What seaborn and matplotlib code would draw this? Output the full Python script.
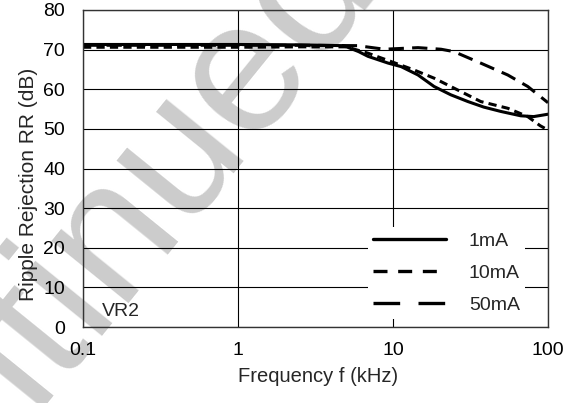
import pandas as pd
import matplotlib
matplotlib.use("Agg")
import matplotlib.pyplot as plt
from matplotlib.lines import Line2D
import seaborn as sns

# Ripple rejection vs frequency, VR2
freq_1ma = [0.1, 1, 2.5, 4.8, 6.0, 6.9, 9.3, 11.3, 14.5, 18.4, 23.6, 30.4, 38.5, 49.6, 66.7, 80.9, 100]
rr_1ma = [71.3, 71.3, 71.2, 71.0, 69.5, 68.3, 66.6, 65.7, 63.6, 60.7, 58.6, 56.9, 55.5, 54.4, 53.3, 53.1, 53.7]

freq_10ma = [0.1, 1, 2.5, 5.0, 6.9, 9.7, 13.6, 18.4, 24.7, 36.8, 55, 74, 89, 100]
rr_10ma = [70.6, 70.6, 70.7, 70.7, 69.1, 67.0, 64.9, 62.8, 60.3, 56.9, 55.2, 53.1, 50.8, 49.7]

freq_50ma = [0.1, 1, 2.5, 5.9, 8.8, 14.5, 20.4, 24.7, 36.8, 55, 74, 100]
rr_50ma = [71.1, 71.1, 71.1, 71.0, 70.1, 70.5, 70.1, 69.5, 66.6, 63.6, 60.7, 56.6]

series = ["1mA", "10mA", "50mA"]
x_ticks = [0.1, 1, 10, 100]
x_tick_labels = ["0.1", "1", "10", "100"]
y_ticks = [0, 10, 20, 30, 40, 50, 60, 70, 80]

df = pd.concat([
    pd.DataFrame({"freq": freq_1ma, "rr": rr_1ma, "current": "1mA"}),
    pd.DataFrame({"freq": freq_10ma, "rr": rr_10ma, "current": "10mA"}),
    pd.DataFrame({"freq": freq_50ma, "rr": rr_50ma, "current": "50mA"}),
])

sns.set_style("white")
plt.rcParams["font.family"] = ["Liberation Sans", "DejaVu Sans"]

fig = plt.figure(figsize=(5.73, 4.03), dpi=100)
ax = fig.add_axes([83 / 573, 1 - 327 / 403, 465 / 573, 317 / 403])
ax.set_facecolor("none")

# faint watermark behind the axes
fig.text(0.661, 1.06, "Discontinued", fontsize=135, color="#cccccc",
         rotation=51, rotation_mode="anchor", ha="right", va="baseline",
         zorder=-1)

dash_map = {"1mA": "", "10mA": (2.7, 1.7), "50mA": (5, 2.7)}
sns.lineplot(data=df, x="freq", y="rr", hue="current", style="current",
             hue_order=series, style_order=series,
             palette=["black"] * 3, dashes=dash_map, linewidth=2.2,
             legend=False, ax=ax, estimator=None, sort=True)

ax.set_xscale("log")
ax.set_xlim(0.1, 100)
ax.set_ylim(0, 80)
ax.set_xticks(x_ticks)
ax.set_xticklabels(x_tick_labels)
ax.set_yticks(y_ticks)
ax.minorticks_off()
ax.tick_params(axis="both", length=0, labelsize=14, colors="black")
ax.tick_params(axis="y", pad=13)
ax.tick_params(axis="x", pad=11)
ax.grid(True, color="black", linewidth=0.8)
for s in ax.spines.values():
    s.set_color("#333333")
    s.set_linewidth(1.0)

ax.set_xlabel("Frequency f (kHz)", fontsize=14.5)
ax.set_ylabel("Ripple Rejection RR (dB)", fontsize=15)
ax.xaxis.set_label_coords(0.505, -0.125)
ax.yaxis.set_label_coords(-0.097, 0.45)

ax.text(0.1 * 1.32, 4, "VR2", fontsize=14, va="center", ha="left")

handles = [
    Line2D([], [], color="black", linewidth=2.4),
    Line2D([], [], color="black", linewidth=2.4, dashes=(4.2, 3.2)),
    Line2D([], [], color="black", linewidth=2.4, dashes=(8, 5.5)),
]
leg = ax.legend(handles, series, loc="lower right", bbox_to_anchor=(0.95, 0.025),
                fontsize=14, frameon=True, fancybox=False, framealpha=1,
                facecolor="white", edgecolor="none", handlelength=3.75,
                handletextpad=1.2, labelspacing=0.75, borderpad=0.25,
                borderaxespad=0)

fig.savefig("out.png", dpi=100)
